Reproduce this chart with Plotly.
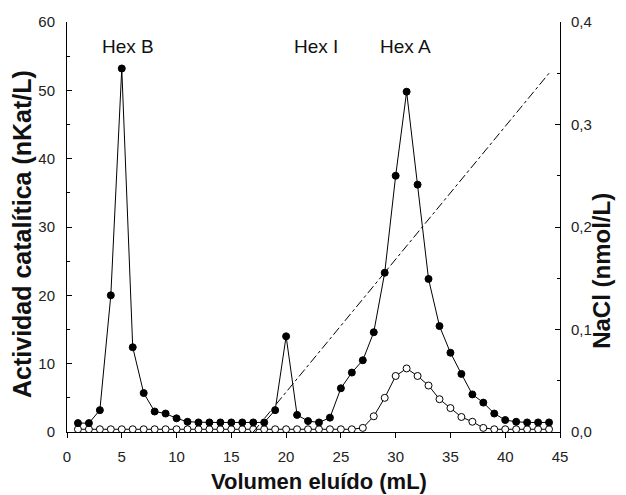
import plotly.graph_objects as go

volumen = list(range(1, 45))
actividad_total = [1.3, 1.3, 3.2, 20.0, 53.2, 12.4, 5.7, 3.0, 2.7, 2.0, 1.5, 1.4, 1.4, 1.4,
                   1.4, 1.4, 1.4, 1.4, 3.2, 14.0, 2.5, 1.6, 1.4, 2.1, 6.4, 8.7, 10.5, 14.6,
                   23.3, 37.5, 49.8, 36.2, 22.4, 15.5, 11.6, 8.5, 5.5, 4.3, 2.7, 1.75, 1.5,
                   1.4, 1.4, 1.4]
actividad_abierta = [0.4] * 26 + [0.6, 2.3, 5.0, 8.2, 9.3, 8.2, 6.8, 4.8, 3.5, 2.2, 1.5, 0.6] + [0.4] * 6
nacl_x = [17, 44]
nacl_y = [0.0, 0.35]
etiquetas = ["Hex B", "Hex I", "Hex A"]
etiquetas_x = [5.6, 22.7, 30.9]
etiquetas_y = [56.4, 56.4, 56.4]

FONT = "Liberation Sans, Arial, sans-serif"

fig = go.Figure()
fig.add_trace(go.Scatter(x=nacl_x, y=nacl_y, yaxis="y2", mode="lines",
                         line=dict(color="black", width=1, dash="dashdot"), showlegend=False))
fig.add_trace(go.Scatter(x=volumen, y=actividad_abierta, mode="lines+markers",
                         line=dict(color="black", width=1),
                         marker=dict(symbol="circle", size=7, color="white",
                                     line=dict(color="black", width=1)), showlegend=False))
fig.add_trace(go.Scatter(x=volumen, y=actividad_total, mode="lines+markers",
                         line=dict(color="black", width=1),
                         marker=dict(symbol="circle", size=7, color="black",
                                     line=dict(color="black", width=1)), showlegend=False))

for t, xx, yy in zip(etiquetas, etiquetas_x, etiquetas_y):
    fig.add_annotation(x=xx, y=yy, text=t, showarrow=False,
                       font=dict(family=FONT, size=19, color="#111"))

# axis titles
fig.add_annotation(text="Volumen eluído (mL)", xref="paper", yref="paper",
                   x=0.5, xshift=5, y=0, yshift=-49, showarrow=False,
                   xanchor="center", yanchor="middle",
                   font=dict(family=FONT, size=22, color="#111", weight="bold"))
fig.add_annotation(text="Actividad catalítica (nKat/L)", xref="paper", yref="paper",
                   x=0, xshift=-45, y=0.5, yshift=-7, textangle=-90, showarrow=False,
                   xanchor="center", yanchor="middle",
                   font=dict(family=FONT, size=25, color="#111", weight="bold"))
fig.add_annotation(text="NaCl (nmol/L)", xref="paper", yref="paper",
                   x=1.0, xshift=42, y=0.393, textangle=-90, showarrow=False,
                   xanchor="center", yanchor="middle",
                   font=dict(family=FONT, size=24, color="#111", weight="bold"))

tickfont = dict(family=FONT, size=15, color="#222")

fig.update_layout(
    width=618, height=487,
    margin=dict(l=59, r=66, t=14, b=63),
    plot_bgcolor="white", paper_bgcolor="white",
    separators=",.",
    xaxis=dict(range=[0, 45], dtick=5, showgrid=False, zeroline=False, automargin=False,
               showline=True, linecolor="black", linewidth=1,
               ticks="outside", ticklen=5, tickcolor="black", tickfont=tickfont,
               ticklabelstandoff=6),
    yaxis=dict(range=[0, 60], dtick=10, showgrid=False, zeroline=False, automargin=False,
               showline=True, linecolor="black", linewidth=1,
               ticks="inside", ticklen=5, tickcolor="black", tickfont=tickfont,
               ticklabelstandoff=8,
               minor=dict(ticks="inside", ticklen=3, dtick=5, tickcolor="black")),
    yaxis2=dict(range=[0, 0.4], dtick=0.1, tickformat=".1f", overlaying="y", side="right",
                showgrid=False, zeroline=False, automargin=False,
                showline=True, linecolor="black", linewidth=1,
                ticks="inside", ticklen=5, tickcolor="black", tickfont=tickfont,
                ticklabelstandoff=7,
                minor=dict(ticks="inside", ticklen=3, dtick=0.05, tickcolor="black")),
)

fig.write_html("out.html")
